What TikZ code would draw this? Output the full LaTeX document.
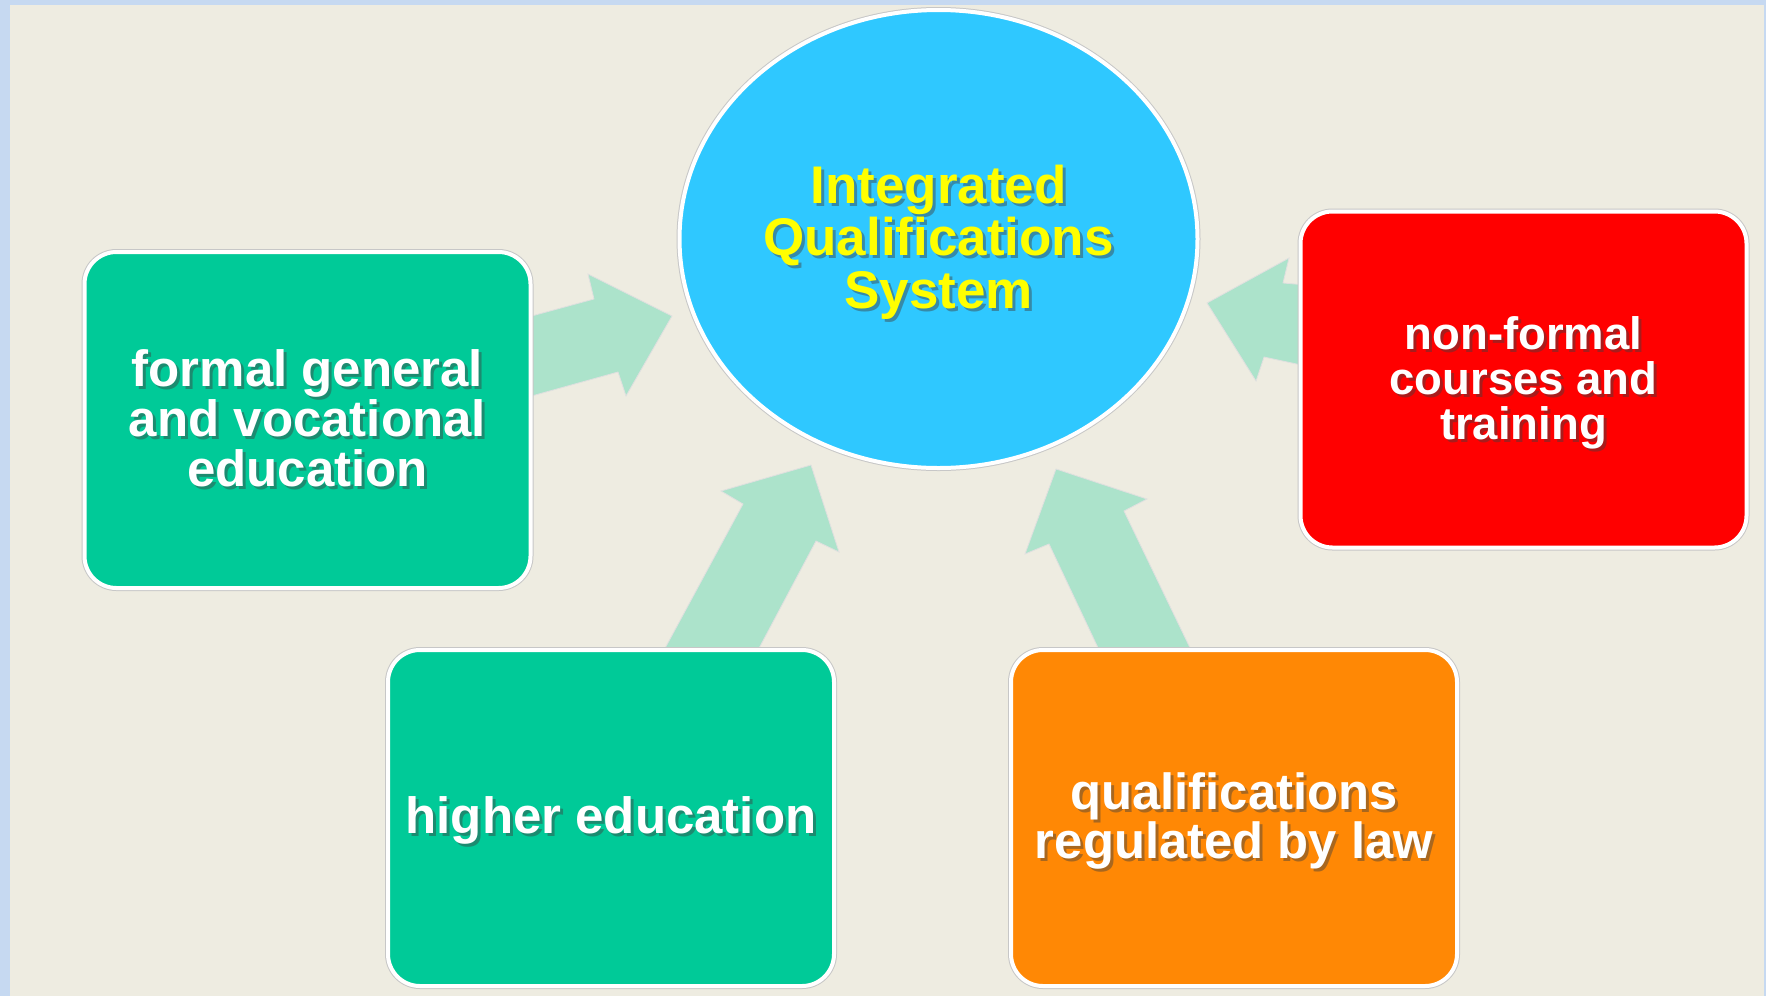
\documentclass[tikz,border=0pt]{standalone}
\usepackage{fontspec}
\setmainfont{Liberation Sans}
\usetikzlibrary{shapes.geometric}
\definecolor{frameblue}{RGB}{198,217,241}
\definecolor{beige}{RGB}{238,236,225}
\definecolor{boxgreen}{RGB}{0,202,152}
\definecolor{ellblue}{RGB}{47,200,255}
\definecolor{boxred}{RGB}{255,0,0}
\definecolor{boxorange}{RGB}{255,136,5}
\definecolor{arrowgreen}{RGB}{172,227,203}
\definecolor{txtyellow}{RGB}{255,255,0}
\begin{document}
\begin{tikzpicture}[x=0.5pt,y=-0.5pt,
  box/.style={rectangle, rounded corners=16pt, draw=white, line width=2pt,
    minimum width=223pt, minimum height=168pt, inner sep=0pt,
    preaction={draw=black!22, line width=3pt}},
  blockarrow/.style={fill=arrowgreen, draw=black!12, line width=0.4pt},
  txt/.style={font=\fontsize{25.5pt}{25pt}\selectfont\bfseries, align=center, text=white, inner sep=0pt},
  shadowtxt/.style={txt, text=black!75, opacity=0.45},
]
\useasboundingbox (0,0) rectangle (1766,996);
\fill[frameblue] (0,0) rectangle (1766,996);
\fill[beige] (10,5) rectangle (1764,996);

% block arrows
\draw[blockarrow] (528,317) -- (594,299) -- (588,274) -- (672,316) -- (626,396) -- (618,372) -- (528,397) -- cycle;
\draw[blockarrow] (663,652) -- (743,504) -- (721,491) -- (811,465) -- (839,552) -- (816,541) -- (757,652) -- cycle;
\draw[blockarrow] (1100,652) -- (1049,544) -- (1025,554) -- (1056,469) -- (1147,499) -- (1124,511) -- (1192,652) -- cycle;
\draw[blockarrow] (1306,285) -- (1283,283) -- (1289,258) -- (1207,303) -- (1256,381) -- (1264,357) -- (1306,366) -- cycle;

% central ellipse
\node[ellipse, fill=ellblue, draw=white, line width=2pt, minimum width=259pt, minimum height=229pt,
  preaction={draw=black!22, line width=3pt}] (iqs) at (938.5,239) {};
\node[shadowtxt, font=\fontsize{26.5pt}{26.2pt}\selectfont\bfseries] (iqss) at (941.5,245) {Integrated\\Qualifications\\System};
\node[txt, text=txtyellow, font=\fontsize{26.5pt}{26.2pt}\selectfont\bfseries] (iqst) at (938.5,242) {Integrated\\Qualifications\\System};

% boxes
\node[box, fill=boxgreen] (formal) at (307.5,420) {};
\node[shadowtxt] (formals) at (310.5,421) {formal general\\and vocational\\education};
\node[txt] (formalt) at (307.5,418) {formal general\\and vocational\\education};

\node[box, fill=boxred] (nonformal) at (1523.5,379.5) {};
\node[shadowtxt, font=\fontsize{22.75pt}{22.5pt}\selectfont\bfseries] (nonformals) at (1526.5,386) {non-formal\\courses and\\training};
\node[txt, font=\fontsize{22.75pt}{22.5pt}\selectfont\bfseries] (nonformalt) at (1523.5,383) {non-formal\\courses and\\training};

\node[box, fill=boxgreen] (higher) at (611,818) {};
\node[shadowtxt] (highers) at (614,823) {higher education};
\node[txt] (highert) at (611,820) {higher education};

\node[box, fill=boxorange] (regulated) at (1234,818) {};
\node[shadowtxt, font=\fontsize{25.4pt}{24.75pt}\selectfont\bfseries] (regulateds) at (1237,824) {qualifications\\regulated by law};
\node[txt, font=\fontsize{25.4pt}{24.75pt}\selectfont\bfseries] (regulatedt) at (1234,821) {qualifications\\regulated by law};
\end{tikzpicture}
\end{document}
